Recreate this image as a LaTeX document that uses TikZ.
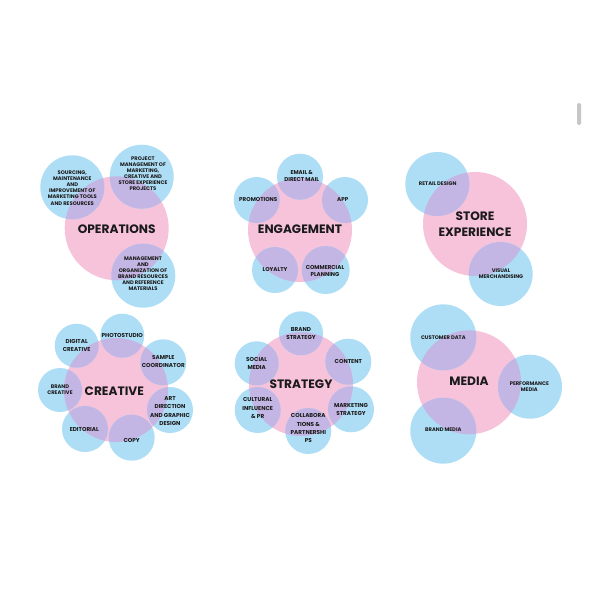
\documentclass[tikz,border=0pt]{standalone}
\usepackage{fontspec}
\setmainfont{Poppins}
\definecolor{pk}{HTML}{F7C3DB}
\definecolor{bl}{HTML}{AEDEF6}
\definecolor{lv}{HTML}{C4B6E4}
\definecolor{ink}{HTML}{1A1A1A}
\begin{document}
\begin{tikzpicture}[x=1pt,y=-1pt,
  big/.style={font=\bfseries\fontsize{12.2}{16}\selectfont,text=ink,align=center,inner sep=0pt},
  sm/.style={font=\bfseries\fontsize{5.2}{6.1}\selectfont,text=ink,align=center,inner sep=0pt},
  smm/.style={font=\bfseries\fontsize{5.6}{6.8}\selectfont,text=ink,align=center,inner sep=0pt},
  smb/.style={font=\bfseries\fontsize{5.7}{8.3}\selectfont,text=ink,align=center,inner sep=0pt}]
\useasboundingbox[fill=white] (0,0) rectangle (600,600);
% scrollbar
\fill[gray!45,rounded corners=1.5pt] (577,103) rectangle (581,125);
% OPERATIONS
\fill[pk] (116.7,228.3) circle (52pt);
\foreach \x/\y/\r in {72.3/187.3/32,141.7/176.7/32,143.3/275.7/32}{\fill[bl] (\x,\y) circle (\r pt);}
\begin{scope}\clip (116.7,228.3) circle (52pt);
\foreach \x/\y/\r in {72.3/187.3/32,141.7/176.7/32,143.3/275.7/32}{\fill[lv] (\x,\y) circle (\r pt);}
\end{scope}
% ENGAGEMENT
\fill[pk] (300,230) circle (52pt);
\foreach \x/\y/\r in {300/176.7/23,345/200/23,256.7/200/23,275/270/23,325.7/270/24}{\fill[bl] (\x,\y) circle (\r pt);}
\begin{scope}\clip (300,230) circle (52pt);
\foreach \x/\y/\r in {300/176.7/23,345/200/23,256.7/200/23,275/270/23,325.7/270/24}{\fill[lv] (\x,\y) circle (\r pt);}
\end{scope}
% STORE EXPERIENCE
\fill[pk] (475,224) circle (52pt);
\foreach \x/\y/\r in {437.3/184/32,500.7/274/32}{\fill[bl] (\x,\y) circle (\r pt);}
\begin{scope}\clip (475,224) circle (52pt);
\foreach \x/\y/\r in {437.3/184/32,500.7/274/32}{\fill[lv] (\x,\y) circle (\r pt);}
\end{scope}
% CREATIVE
\fill[pk] (116,390) circle (52pt);
\foreach \x/\y/\r in {76.7/345.7/22,122.3/335.7/22,163.3/362.3/23,170/410/23,131.7/437.7/23,85/429/23,60/390/22}{\fill[bl] (\x,\y) circle (\r pt);}
\begin{scope}\clip (116,390) circle (52pt);
\foreach \x/\y/\r in {76.7/345.7/22,122.3/335.7/22,163.3/362.3/23,170/410/23,131.7/437.7/23,85/429/23,60/390/22}{\fill[lv] (\x,\y) circle (\r pt);}
\end{scope}
% STRATEGY
\fill[pk] (301,384) circle (52pt);
\foreach \x/\y/\r in {301/333.3/22,348.3/361.7/23,351/409.3/23,308.3/431/23,257.7/410/23,256.7/363.3/22}{\fill[bl] (\x,\y) circle (\r pt);}
\begin{scope}\clip (301,384) circle (52pt);
\foreach \x/\y/\r in {301/333.3/22,348.3/361.7/23,351/409.3/23,308.3/431/23,257.7/410/23,256.7/363.3/22}{\fill[lv] (\x,\y) circle (\r pt);}
\end{scope}
% MEDIA
\fill[pk] (469,382.3) circle (52pt);
\foreach \x/\y/\r in {443.3/337.3/33,530/386.7/32,443.3/430.7/33}{\fill[bl] (\x,\y) circle (\r pt);}
\begin{scope}\clip (469,382.3) circle (52pt);
\foreach \x/\y/\r in {443.3/337.3/33,530/386.7/32,443.3/430.7/33}{\fill[lv] (\x,\y) circle (\r pt);}
\end{scope}
% ---- texts ----
\node[big] (op) at (116.7,229.3) {OPERATIONS};
\node[sm] (op1) at (72.3,188) {SOURCING,\\MAINTENANCE\\AND\\IMPROVEMENT OF\\MARKETING TOOLS\\AND RESOURCES};
\node[sm] (op2) at (143,173.7) {PROJECT\\MANAGEMENT OF\\MARKETING,\\CREATIVE AND\\STORE EXPERIENCE\\PROJECTS};
\node[sm] (op3) at (143,273.7) {MANAGEMENT\\AND\\ORGANIZATION OF\\BRAND RESOURCES\\AND REFERENCE\\MATERIALS};
\node[big] (en) at (300,229) {ENGAGEMENT};
\node[smm] (en1) at (301.7,175.7) {EMAIL \&\\DIRECT MAIL};
\node[smm] (en2) at (342.7,200) {APP};
\node[smm] (en3) at (258.3,200) {PROMOTIONS};
\node[smm] (en4) at (275,270) {LOYALTY};
\node[smm] (en5) at (325,270.7) {COMMERCIAL\\PLANNING};
\node[big] (st) at (475,224.5) {STORE\\EXPERIENCE};
\node[sm] (st1) at (437.7,183.7) {RETAIL DESIGN};
\node[sm] (st2) at (501,274) {VISUAL\\MERCHANDISING};
\node[big] (cr) at (114.3,390.7) {CREATIVE};
\node[smb] (cr1) at (76.7,345.7) {DIGITAL\\CREATIVE};
\node[smb] (cr2) at (122.3,335) {PHOTOSTUDIO};
\node[smb] (cr3) at (163.3,361.7) {SAMPLE\\COORDINATOR};
\node[smb] (cr4) at (170,411) {ART\\DIRECTION\\AND GRAPHIC\\DESIGN};
\node[smb] (cr5) at (131.7,440) {COPY};
\node[smb] (cr6) at (84.3,429) {EDITORIAL};
\node[sm] (cr7) at (60,390) {BRAND\\CREATIVE};
\node[big] (sg) at (301,384.3) {STRATEGY};
\node[smb] (sg1) at (301,333.3) {BRAND\\STRATEGY};
\node[smb] (sg2) at (348.3,361.7) {CONTENT};
\node[smb] (sg3) at (351,409.3) {MARKETING\\STRATEGY};
\node[smb] (sg4) at (308.3,428.3) {COLLABORA\\TIONS \&\\PARTNERSHI\\PS};
\node[smb] (sg5) at (257.7,408.3) {CULTURAL\\INFLUENCE\\\& PR};
\node[smb] (sg6) at (256.7,363.3) {SOCIAL\\MEDIA};
\node[big] (me) at (469,381) {MEDIA};
\node[sm] (me1) at (443.3,337.3) {CUSTOMER DATA};
\node[sm] (me2) at (529.3,386.7) {PERFORMANCE\\MEDIA};
\node[sm] (me3) at (443.3,430) {BRAND MEDIA};
\end{tikzpicture}
\end{document}
